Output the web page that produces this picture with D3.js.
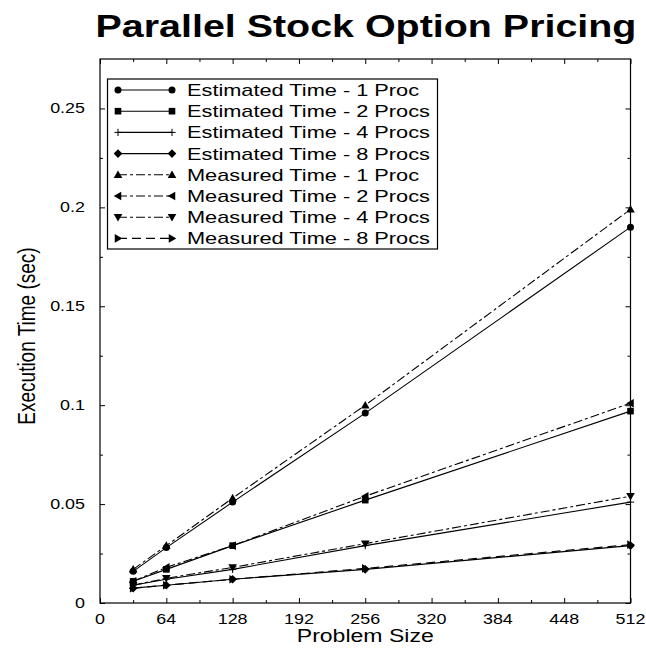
<!DOCTYPE html>
<html><head><meta charset="utf-8">
<script src="https://cdn.jsdelivr.net/npm/d3@7"></script>
<style>body{margin:0;background:#fff}svg{display:block}text{font-family:"Liberation Sans",Arial,sans-serif;fill:#000}</style>
</head><body><svg id="c" width="646" height="651"></svg>
<script>
const sizes = [32, 64, 128, 256, 512];
const est1 = [0.016, 0.028, 0.051, 0.096, 0.190];
const est2 = [0.011, 0.017, 0.029, 0.052, 0.097];
const est4 = [0.009, 0.012, 0.017, 0.029, 0.051];
const est8 = [0.0075, 0.009, 0.012, 0.017, 0.029];
const meas1 = [0.017, 0.029, 0.053, 0.100, 0.199];
const meas2 = [0.011, 0.018, 0.029, 0.054, 0.101];
const meas4 = [0.009, 0.0125, 0.018, 0.030, 0.054];
const meas8 = [0.0075, 0.009, 0.012, 0.0175, 0.0295];
const seriesNames = ["Estimated Time - 1 Proc","Estimated Time - 2 Procs","Estimated Time - 4 Procs","Estimated Time - 8 Procs","Measured Time - 1 Proc","Measured Time - 2 Procs","Measured Time - 4 Procs","Measured Time - 8 Procs"];
const xTicks = [0, 64, 128, 192, 256, 320, 384, 448, 512];
const yTicks = [0, 0.05, 0.1, 0.15, 0.2, 0.25];
const xMinor = [32, 96, 160, 224, 288, 352, 416, 480];
const yMinor = [0.025, 0.075, 0.125, 0.175, 0.225];
const titleText = "Parallel Stock Option Pricing";
const xLabel = "Problem Size";
const yLabel = "Execution Time (sec)";

const allSeries = [est1, est2, est4, est8, meas1, meas2, meas4, meas8];
const markers = ["circle","square","plus","diamond","up","left","down","right"];
const SX = 1.28;

const svg = d3.select("#c");
const L = 100, R = 630.5, T = 59, B = 603;
const x = d3.scaleLinear().domain([0, 512]).range([L, R]);
const y = d3.scaleLinear().domain([0, 0.275]).range([B, T]);

function txt(g, s, px, py, size, anchor, opts = {}) {
  const t = g.append("text").text(s)
    .attr("font-size", size)
    .attr("text-anchor", anchor)
    .attr("transform", opts.rotate ? `translate(${px},${py}) rotate(-90) scale(1,${SX})` : `translate(${px},${py}) scale(${SX},1)`);
  if (opts.bold) t.attr("font-weight", "bold");
  if (opts.dy) t.attr("dy", opts.dy);
  return t;
}

// title
txt(svg, titleText, 366, 37, 30.8, "middle", {bold: true});

// frame
svg.append("rect").attr("x", L).attr("y", T).attr("width", R - L).attr("height", B - T)
  .attr("fill", "none").attr("stroke", "#000").attr("stroke-width", 1.2);

// axes with inward ticks on all sides
const ax = svg.append("g");
ax.append("g").attr("transform", `translate(0,${B})`)
  .call(d3.axisBottom(x).tickValues(xTicks).tickSize(-5).tickFormat("")).call(g => g.select(".domain").remove());
ax.append("g").attr("transform", `translate(0,${B})`)
  .call(d3.axisBottom(x).tickValues(xMinor).tickSize(-3).tickFormat("")).call(g => g.select(".domain").remove());
ax.append("g").attr("transform", `translate(0,${T})`)
  .call(d3.axisTop(x).tickValues(xTicks).tickSize(-5).tickFormat("")).call(g => g.select(".domain").remove());
ax.append("g").attr("transform", `translate(0,${T})`)
  .call(d3.axisTop(x).tickValues(xMinor).tickSize(-3).tickFormat("")).call(g => g.select(".domain").remove());
ax.append("g").attr("transform", `translate(${L},0)`)
  .call(d3.axisLeft(y).tickValues(yTicks).tickSize(-5).tickFormat("")).call(g => g.select(".domain").remove());
ax.append("g").attr("transform", `translate(${L},0)`)
  .call(d3.axisLeft(y).tickValues(yMinor).tickSize(-3).tickFormat("")).call(g => g.select(".domain").remove());
ax.append("g").attr("transform", `translate(${R},0)`)
  .call(d3.axisRight(y).tickValues(yTicks).tickSize(-5).tickFormat("")).call(g => g.select(".domain").remove());
ax.append("g").attr("transform", `translate(${R},0)`)
  .call(d3.axisRight(y).tickValues(yMinor).tickSize(-3).tickFormat("")).call(g => g.select(".domain").remove());
ax.selectAll("line").attr("stroke", "#000").attr("stroke-width", 1);

// tick labels
const fmt = d3.format("~g");
xTicks.forEach(v => txt(svg, String(v), x(v), 624, 14, "middle"));
yTicks.forEach(v => txt(svg, fmt(v), 85, y(v), 14, "end", {dy: "0.35em"}));

// axis titles
txt(svg, xLabel, (L + R) / 2, 642, 18, "middle");
txt(svg, yLabel, 35, 336, 19, "middle", {rotate: true});

// marker symbol
function drawMarker(g, type, cx, cy) {
  const s = 3.6;
  if (type === "circle") g.append("circle").attr("cx", cx).attr("cy", cy).attr("r", 3.5).attr("fill", "#000");
  else if (type === "square") g.append("rect").attr("x", cx - 3.3).attr("y", cy - 3.3).attr("width", 6.6).attr("height", 6.6).attr("fill", "#000");
  else if (type === "plus") g.append("path").attr("d", `M${cx - s},${cy}H${cx + s}M${cx},${cy - s}V${cy + s}`).attr("stroke", "#000").attr("stroke-width", 1).attr("fill", "none");
  else {
    let pts;
    const d = 4.3;
    if (type === "diamond") pts = [[cx, cy - d], [cx + d, cy], [cx, cy + d], [cx - d, cy]];
    else if (type === "up") pts = [[cx, cy - d], [cx + d, cy + d * 0.75], [cx - d, cy + d * 0.75]];
    else if (type === "down") pts = [[cx, cy + d], [cx + d, cy - d * 0.75], [cx - d, cy - d * 0.75]];
    else if (type === "left") pts = [[cx - d, cy], [cx + d * 0.75, cy - d], [cx + d * 0.75, cy + d]];
    else pts = [[cx + d, cy], [cx - d * 0.75, cy - d], [cx - d * 0.75, cy + d]];
    g.append("path").attr("d", "M" + pts.map(p => p.join(",")).join("L") + "Z").attr("fill", "#000");
  }
}
const dashes = [null, null, null, null, "9,3,3,3", "9,3,3,3", "9,3,3,3", "9,5"];

const line = d3.line().x((d, i) => x(sizes[i])).y(d => y(d));
const plot = svg.append("g");
allSeries.forEach((vals, k) => {
  plot.append("path").datum(vals).attr("d", line).attr("fill", "none")
    .attr("stroke", "#000").attr("stroke-width", 1.1)
    .attr("stroke-dasharray", dashes[k]);
  vals.forEach((v, i) => drawMarker(plot, markers[k], x(sizes[i]), y(v)));
});

// legend
const lg = svg.append("g");
lg.append("rect").attr("x", 107.5).attr("y", 79).attr("width", 330).attr("height", 170)
  .attr("fill", "#fff").attr("stroke", "#000").attr("stroke-width", 1.2);
seriesNames.forEach((name, k) => {
  const ly = 90 + k * 21.2;
  lg.append("line").attr("x1", 118).attr("x2", 172).attr("y1", ly).attr("y2", ly)
    .attr("stroke", "#000").attr("stroke-width", 1.1).attr("stroke-dasharray", dashes[k]);
  drawMarker(lg, markers[k], 118, ly);
  drawMarker(lg, markers[k], 172, ly);
  txt(lg, name, 187, ly, 17, "start", {dy: "0.35em"});
});
</script></body></html>
